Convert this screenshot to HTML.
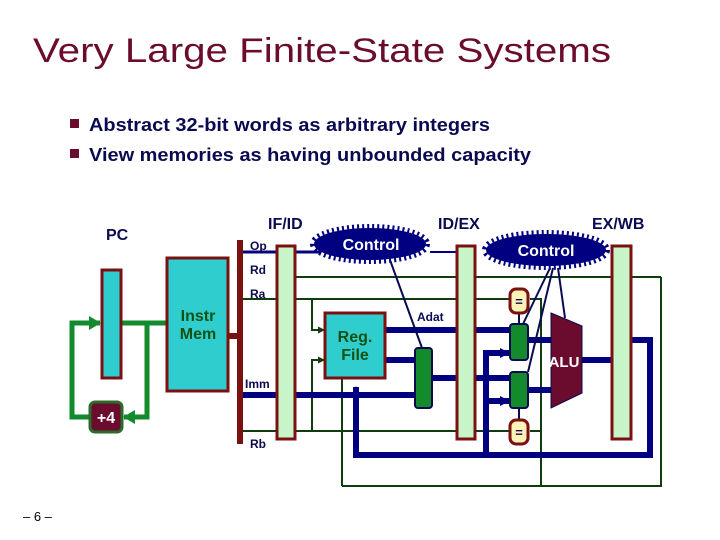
<!DOCTYPE html>
<html><head><meta charset="utf-8"><style>
html,body{margin:0;padding:0;background:#fff;}
svg{display:block;font-family:"Liberation Sans",Arial,sans-serif;}
</style></head><body>
<svg width="720" height="540" viewBox="0 0 720 540" xmlns="http://www.w3.org/2000/svg">
<defs>
<marker id="ag" markerWidth="12" markerHeight="14" refX="11" refY="7" orient="auto" markerUnits="userSpaceOnUse"><path d="M0,0 L12,7 L0,14 z" fill="#138a2b"/></marker>
<marker id="ab" markerWidth="10" markerHeight="10" refX="9" refY="5" orient="auto" markerUnits="userSpaceOnUse"><path d="M0,0 L10,5 L0,10 z" fill="#000080"/></marker>
<marker id="ad" markerWidth="7" markerHeight="7" refX="6" refY="3.5" orient="auto" markerUnits="userSpaceOnUse"><path d="M0,0 L7,3.5 L0,7 z" fill="#0f3d10"/></marker>
</defs>
<text x="33" y="62" font-size="34" fill="#6b0c2e" textLength="578" lengthAdjust="spacingAndGlyphs">Very Large Finite-State Systems</text>
<rect x="70" y="119" width="9" height="9" fill="#6b0c2e"/>
<rect x="70" y="149" width="9" height="9" fill="#6b0c2e"/>
<g font-size="18" font-weight="bold" fill="#0a0a50">
<text x="89" y="131" textLength="401" lengthAdjust="spacingAndGlyphs">Abstract 32-bit words as arbitrary integers</text>
<text x="89" y="161" textLength="442" lengthAdjust="spacingAndGlyphs">View memories as having unbounded capacity</text>
</g>
<g stroke="#138a2b" stroke-width="5" fill="none">
<line x1="121" y1="323" x2="167" y2="323"/>
<polyline points="147,323 147,417 124,417" marker-end="url(#ag)"/>
<polyline points="90,417 72,417 72,323 100,323" marker-end="url(#ag)"/>
</g>
<rect x="90" y="402" width="32" height="30" rx="5" fill="#6b0c2e" stroke="#2c6b2c" stroke-width="3"/>
<text x="106" y="423" font-size="16" font-weight="bold" fill="#fff" text-anchor="middle">+4</text>
<rect x="102" y="270" width="19" height="108" fill="#2fcdcd" stroke="#7a1010" stroke-width="3"/>
<text x="106" y="240" font-size="16" font-weight="bold" fill="#0a0a50">PC</text>
<rect x="167" y="258" width="61" height="133" fill="#2fcdcd" stroke="#7a1010" stroke-width="3"/>
<text x="198" y="321" font-size="16" font-weight="bold" fill="#145214" text-anchor="middle">Instr</text>
<text x="198" y="339" font-size="16" font-weight="bold" fill="#145214" text-anchor="middle">Mem</text>
<line x1="228" y1="336" x2="240" y2="336" stroke="#7a1010" stroke-width="6"/>
<rect x="237" y="240" width="6" height="204" fill="#7a1010"/>
<g fill="none" stroke="#0f3d10" stroke-width="2">
<line x1="295" y1="277" x2="661" y2="277"/>
<line x1="243" y1="299" x2="510" y2="299"/>
<line x1="243" y1="431" x2="510" y2="431"/>
<polyline points="661,277 661,486 342,486"/>
<polyline points="342,486 342,379"/>
<polyline points="312,299 312,330 324,330" marker-end="url(#ad)"/>
<polyline points="312,431 312,360 324,360" marker-end="url(#ad)"/>
<polyline points="541,486 541,299 530,299"/>
<line x1="541" y1="431" x2="530" y2="431"/>
</g>
<line x1="243" y1="252" x2="277" y2="252" stroke="#000080" stroke-width="3"/>
<line x1="295" y1="252" x2="320" y2="252" stroke="#000080" stroke-width="3"/>
<line x1="430" y1="252" x2="457" y2="252" stroke="#000080" stroke-width="2"/>
<g fill="none" stroke="#000080" stroke-width="6">
<line x1="243" y1="395" x2="415" y2="395"/>
<line x1="385" y1="330" x2="510" y2="330"/>
<line x1="385" y1="360" x2="415" y2="360"/>
<line x1="432" y1="378" x2="457" y2="378"/>
<line x1="475" y1="378" x2="510" y2="378"/>
<line x1="528" y1="340" x2="551" y2="340"/>
<line x1="528" y1="390" x2="551" y2="390"/>
<line x1="582" y1="360" x2="612" y2="360"/>
<polyline points="631,340 650,340 650,455 356,455 356,387" marker-end="url(#ab)"/>
<polyline points="486,455 486,353 509,353" marker-end="url(#ab)"/>
<line x1="486" y1="401" x2="509" y2="401" marker-end="url(#ab)"/>
</g>
<g stroke="#0a0a50" stroke-width="2">
<line x1="390" y1="260" x2="422" y2="348"/>
<line x1="550" y1="268" x2="523" y2="324"/>
<line x1="553" y1="268" x2="528" y2="372"/>
<line x1="558" y1="268" x2="565" y2="318"/>
<line x1="519" y1="313" x2="519" y2="324"/>
<line x1="519" y1="408" x2="519" y2="420"/>
</g>
<rect x="277" y="246" width="18" height="193" fill="#c8f5c8" stroke="#7a1010" stroke-width="3"/>
<rect x="457" y="246" width="18" height="193" fill="#c8f5c8" stroke="#7a1010" stroke-width="3"/>
<rect x="612" y="246" width="19" height="193" fill="#c8f5c8" stroke="#7a1010" stroke-width="3"/>
<rect x="325" y="313" width="60" height="65" fill="#2fcdcd" stroke="#7a1010" stroke-width="3"/>
<text x="355" y="342" font-size="16" font-weight="bold" fill="#145214" text-anchor="middle">Reg.</text>
<text x="355" y="360" font-size="16" font-weight="bold" fill="#145214" text-anchor="middle">File</text>
<rect x="415" y="348" width="17" height="60" rx="3" fill="#138a2b" stroke="#0a0a50" stroke-width="2"/>
<rect x="510" y="324" width="18" height="36" rx="3" fill="#138a2b" stroke="#0a0a50" stroke-width="2"/>
<rect x="510" y="372" width="18" height="36" rx="3" fill="#138a2b" stroke="#0a0a50" stroke-width="2"/>
<rect x="510" y="289" width="18" height="24" rx="6" fill="#fdf3b8" stroke="#7a1010" stroke-width="3"/>
<rect x="510" y="420" width="18" height="24" rx="6" fill="#fdf3b8" stroke="#7a1010" stroke-width="3"/>
<text x="519" y="306" font-size="13" font-weight="bold" fill="#0a0a50" text-anchor="middle">=</text>
<text x="519" y="437" font-size="13" font-weight="bold" fill="#0a0a50" text-anchor="middle">=</text>
<polygon points="551,313 582,326 582,393 551,408" fill="#6b0c2e" stroke="#0a0a50" stroke-width="1"/>
<text x="564" y="367" font-size="15" font-weight="bold" fill="#fff" text-anchor="middle">ALU</text>
<ellipse cx="370" cy="244" rx="56" ry="16" fill="#000080" stroke="#000080" stroke-width="8" stroke-dasharray="2 3"/>
<text x="371" y="250" font-size="16" font-weight="bold" fill="#fff" text-anchor="middle">Control</text>
<ellipse cx="546" cy="250" rx="60" ry="16" fill="#000080" stroke="#000080" stroke-width="8" stroke-dasharray="2 3"/>
<text x="546" y="256" font-size="16" font-weight="bold" fill="#fff" text-anchor="middle">Control</text>
<g font-size="16" font-weight="bold" fill="#0a0a50">
<text x="268" y="229">IF/ID</text>
<text x="438" y="229">ID/EX</text>
<text x="592" y="229">EX/WB</text>
</g>
<g font-size="12" font-weight="bold" fill="#0a0a50">
<text x="250" y="250">Op</text>
<text x="250" y="274">Rd</text>
<text x="250" y="298">Ra</text>
<text x="245" y="388">Imm</text>
<text x="250" y="448">Rb</text>
<text x="417" y="321">Adat</text>
</g>
<text x="23" y="521" font-size="13" fill="#000">– 6 –</text>
</svg>
</body></html>
